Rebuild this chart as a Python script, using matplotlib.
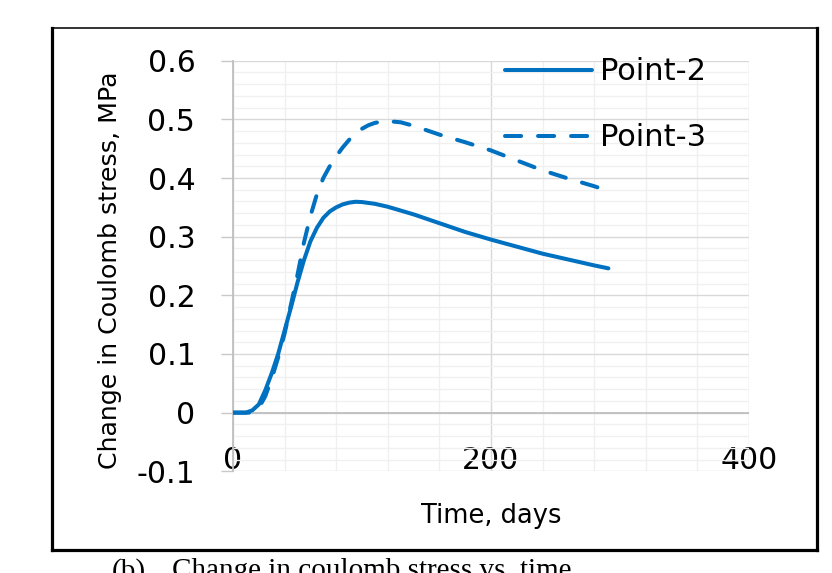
import matplotlib
matplotlib.use("Agg")
import matplotlib.pyplot as plt
from matplotlib.ticker import MultipleLocator
from matplotlib.lines import Line2D

# data (time in days, stress change in MPa)
t_p2 = [0, 5, 10, 15, 20, 25, 30, 35, 40, 45, 50, 55, 60, 65, 70, 75, 80, 85, 90,
        95, 100, 105, 110, 120, 140, 160, 180, 200, 220, 240, 260, 280, 291]
v_p2 = [0, 0, 0, 0.004, 0.014, 0.038, 0.067, 0.10, 0.14, 0.18, 0.222, 0.26, 0.292,
        0.315, 0.332, 0.343, 0.35, 0.355, 0.358, 0.3595, 0.359, 0.3575, 0.356, 0.351,
        0.338, 0.323, 0.308, 0.295, 0.283, 0.271, 0.261, 0.251, 0.246]

t_p3 = [0, 5, 10, 15, 20, 25, 30, 35, 40, 45, 50, 55, 60, 65, 70, 75, 80, 85, 90,
        95, 100, 105, 110, 115, 120, 130, 140, 160, 180, 200, 220, 240, 260, 280, 291]
v_p3 = [0, 0, 0, 0, 0.008, 0.028, 0.058, 0.094, 0.135, 0.185, 0.235, 0.29, 0.335,
        0.372, 0.40, 0.42, 0.437, 0.452, 0.465, 0.476, 0.484, 0.49, 0.494, 0.496,
        0.497, 0.495, 0.489, 0.474, 0.461, 0.447, 0.43, 0.413, 0.399, 0.386, 0.378]

x_ticks = [0, 200, 400]
x_labels = ["0", "200", "400"]
y_ticks = [-0.1, 0, 0.1, 0.2, 0.3, 0.4, 0.5, 0.6]
y_labels = ["-0.1", "0", "0.1", "0.2", "0.3", "0.4", "0.5", "0.6"]

blue = "#0070c0"
W, H = 832, 573

fig = plt.figure(figsize=(W / 100, H / 100), dpi=100)
ax = fig.add_axes([233 / W, 1 - 471.3 / H, 516 / W, 410.6 / H])

ax.plot(t_p2, v_p2, color=blue, lw=2.9, label="Point-2", zorder=3,
        solid_capstyle="round", solid_joinstyle="round")
ax.plot(t_p3, v_p3, color=blue, lw=2.9, label="Point-3", zorder=3,
        linestyle=(0, (4, 4.2)), dash_capstyle="round")

ax.set_xlim(0, 400)
ax.set_ylim(-0.1, 0.6)
ax.set_xticks(x_ticks)
ax.set_xticklabels(x_labels)
ax.set_yticks(y_ticks)
ax.set_yticklabels(y_labels)
ax.xaxis.set_minor_locator(MultipleLocator(40))
ax.yaxis.set_minor_locator(MultipleLocator(0.02))

ax.set_axisbelow(True)
ax.grid(which="minor", color="#f0f0f0", lw=1.0)
ax.grid(which="major", color="#d9d9d9", lw=1.0)
ax.axhline(0, color="#bfbfbf", lw=1.3, zorder=2)

for s in ["top", "right", "bottom"]:
    ax.spines[s].set_visible(False)
ax.spines["left"].set_color("#bfbfbf")
ax.spines["left"].set_linewidth(1.3)

ax.tick_params(which="minor", length=0)
ax.tick_params(axis="x", which="major", length=0, pad=-18, labelsize=21.5)
ax.tick_params(axis="y", which="major", length=8.6, width=1.0, color="#c8c8c8",
               pad=18.5, labelsize=21.5)

fig.text(491 / W, 1 - 523 / H, "Time, days", ha="center", va="baseline",
         fontsize=18.5)
fig.text(110 / W, 1 - 270 / H, "Change in Coulomb stress, MPa", rotation=90,
         ha="center", va="center", fontsize=18.2)

ax.legend(loc="upper left", bbox_to_anchor=(0.527, 1.008), frameon=False,
          fontsize=22, handlelength=2.85, handletextpad=0.25, borderpad=0,
          borderaxespad=0, labelspacing=1.21)

# frame around the figure
fig.add_artist(Line2D([52 / W, 817 / W], [1 - 28 / H, 1 - 28 / H], color="#333333", lw=1.4))
fig.add_artist(Line2D([52 / W, 52 / W], [1 - 28 / H, 1 - 550 / H], color="black", lw=2.3))
fig.add_artist(Line2D([817 / W, 817 / W], [1 - 28 / H, 1 - 550 / H], color="black", lw=2.3))
fig.add_artist(Line2D([52 / W, 817 / W], [1 - 550 / H, 1 - 550 / H], color="black", lw=2.3))

# caption below the frame (cut off by the image edge, as in the source)
fig.text(112 / W, 1 - 578.5 / H, "(b)", family="Liberation Serif", fontsize=21,
         va="baseline")
fig.text(172 / W, 1 - 578.5 / H, "Change in coulomb stress vs. time",
         family="Liberation Serif", fontsize=21, va="baseline")

fig.savefig("out.png", dpi=100)
